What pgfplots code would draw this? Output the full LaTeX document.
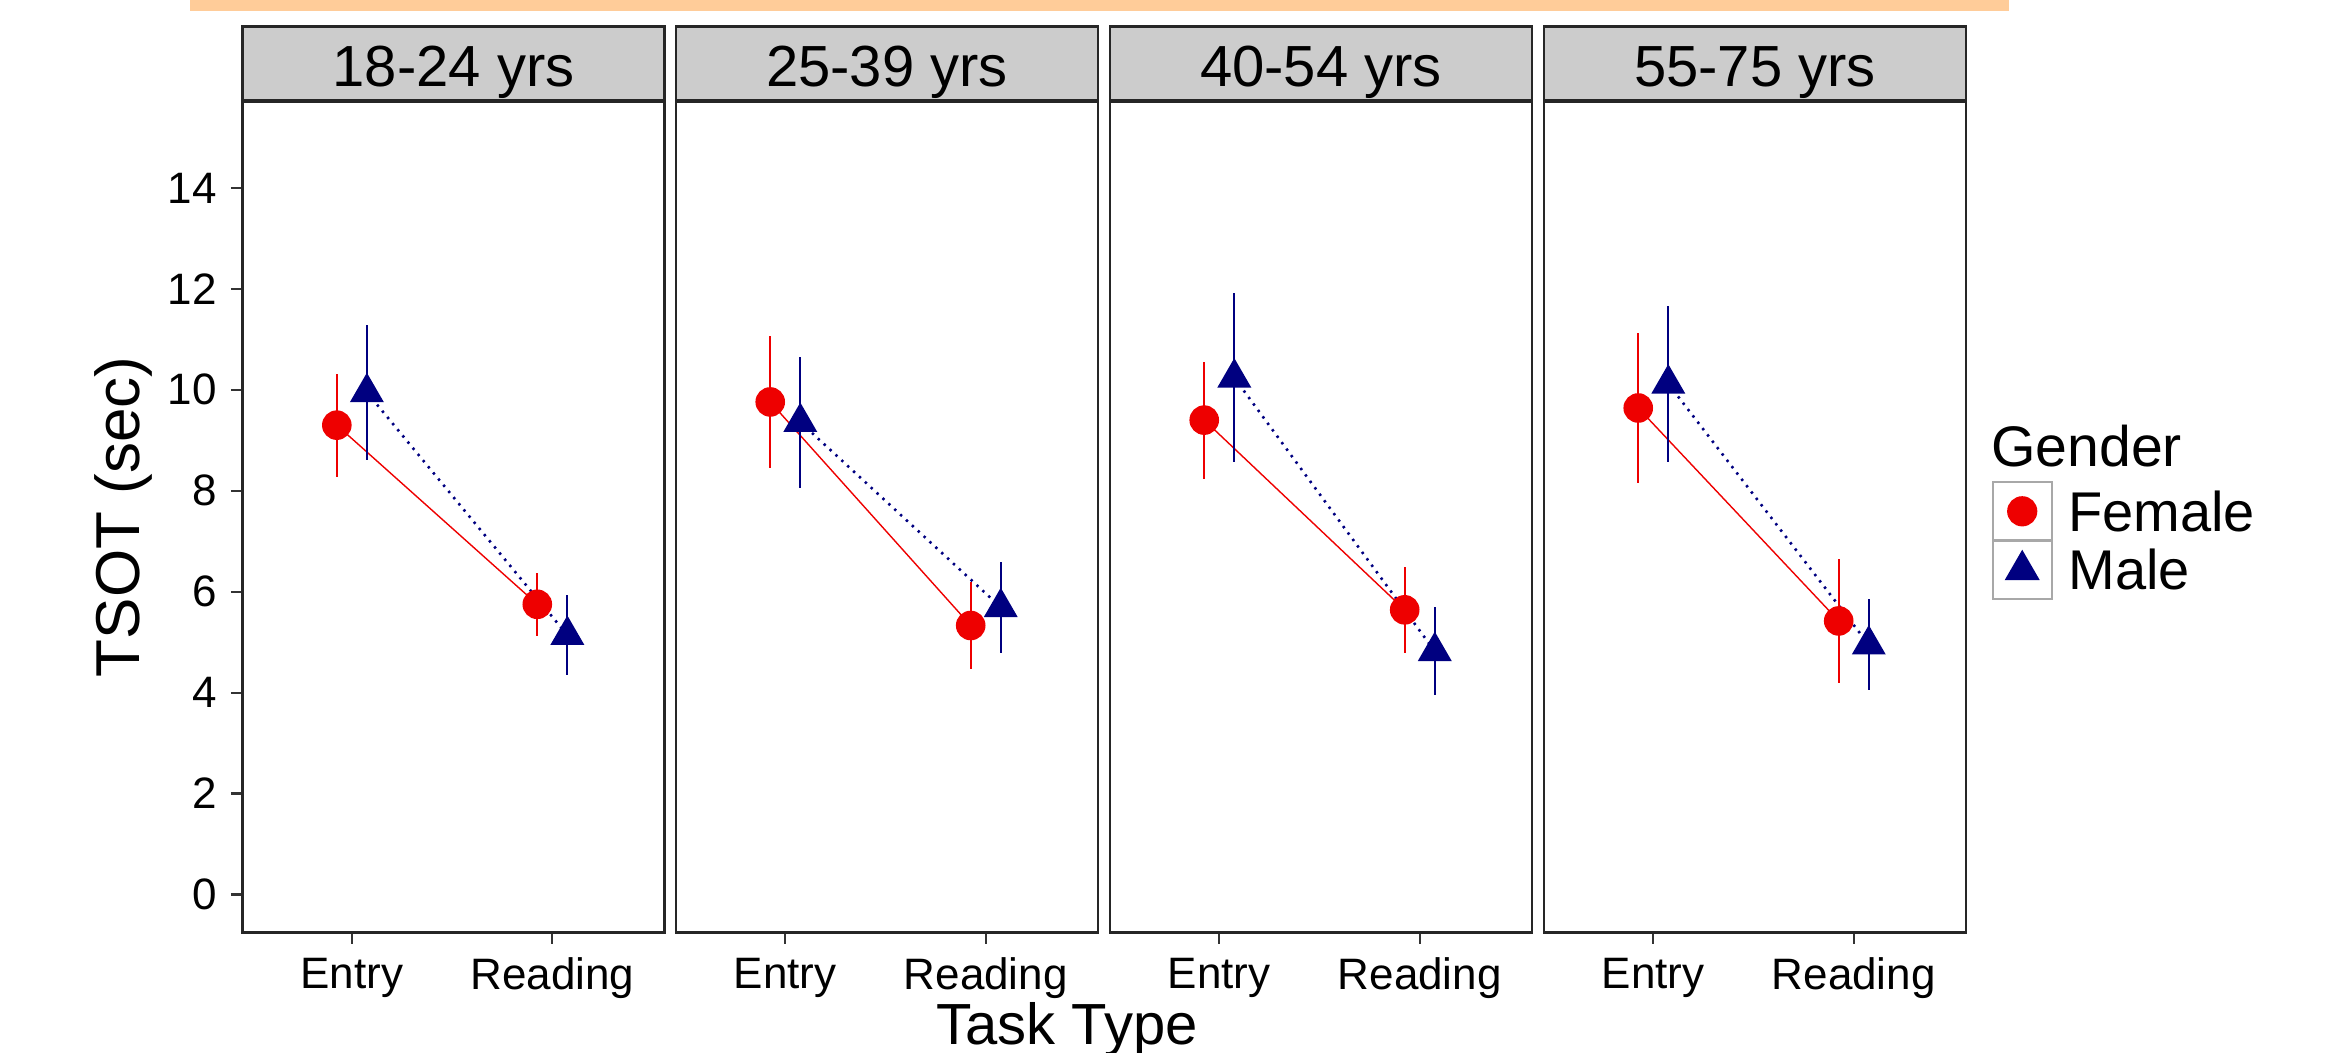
\documentclass[border=0pt]{standalone}
\usepackage{fontspec}
\setmainfont{Liberation Sans}
\usepackage{pgfplots}
\pgfplotsset{compat=1.18}
\definecolor{ggred}{HTML}{EE0000}
\definecolor{ggblue}{HTML}{000080}
\definecolor{stripgray}{HTML}{CCCCCC}
\definecolor{orangebar}{HTML}{FFCC99}
\definecolor{keygray}{HTML}{A8A8A8}

\pgfplotsset{
  panel/.style={
    scale only axis, width=105.5pt, height=207.65pt,
    xmin=0.455, xmax=2.56, ymin=-0.75, ymax=15.71,
    xtick={1,2}, xticklabels={Entry,Reading},
    ytick={0,2,...,14},
    tick align=outside, tick pos=left,
    major tick length=2.9pt,
    tick style={line width=0.55pt, black!80},
    axis line style={line width=0.7pt, black!85},
    /pgf/number format/assume math mode=true,
    tick label style={font=\fontsize{11}{13}\selectfont},
    every axis title shift=0pt,
    title style={at={(0.5,1)}, anchor=south, yshift=0pt, fill=stripgray, draw=black!85, line width=0.7pt,
       minimum width=105.5pt, minimum height=18.35pt, inner sep=0pt, text height=11.6pt, text depth=0pt,
       font=\fontsize{14.5}{17}\selectfont},
    clip=false,
  },
  femline/.style={ggred, line width=0.35pt, forget plot},
  malline/.style={ggblue, line width=0.65pt, dash pattern=on 0.6pt off 1.4pt, forget plot},
  fem/.style={only marks, mark=*, mark size=3.5pt, color=ggred,
     legend image code/.code={
       \draw[draw=keygray, line width=0.6pt, fill=white] (0pt,-7.33pt) rectangle (14.8pt,7.33pt);
       \draw[ggred, line width=0.55pt, mark=*, mark size=3.5pt, mark repeat=2, mark phase=2]
          plot coordinates {(1.6pt,0pt) (7.35pt,0pt) (13.2pt,0pt)};
     },
     error bars/.cd, y dir=both, y explicit, error mark=none,
     error bar style={line width=0.55pt, ggred}},
  mal/.style={only marks, mark=triangle*, mark size=4.5pt, color=ggblue,
     legend image code/.code={
       \draw[draw=keygray, line width=0.6pt, fill=white] (0pt,-7.33pt) rectangle (14.8pt,7.33pt);
       \draw[ggblue, line width=0.55pt, mark=triangle*, mark size=4.5pt, mark repeat=2, mark phase=2]
          plot coordinates {(1.6pt,0pt) (7.35pt,0pt) (13.2pt,0pt)};
     },
     error bars/.cd, y dir=both, y explicit, error mark=none,
     error bar style={line width=0.55pt, ggblue}},
}

\begin{document}
\begin{tikzpicture}
\path[use as bounding box] (0,0) rectangle (583.5pt,263pt);
\fill[orangebar] (47.6pt,263pt) rectangle (502.25pt,260.3pt);

% Panel 1
\begin{axis}[panel, at={(60.65pt,29.93pt)}, anchor=south west, title={18-24 yrs}]
\addplot[femline] coordinates {(0.925,9.30) (1.925,5.75)};
\addplot[malline] coordinates {(1.075,9.95) (2.075,5.14)};
\addplot[fem] coordinates {(0.925,9.30) +- (0,1.02) (1.925,5.75) +- (0,0.62)};
\addplot[mal] coordinates {(1.075,9.95) +- (0,1.34) (2.075,5.14) +- (0,0.80)};
\end{axis}

% Panel 2
\begin{axis}[panel, ytick=\empty, at={(169pt,29.93pt)}, anchor=south west, title={25-39 yrs}]
\addplot[femline] coordinates {(0.925,9.76) (1.925,5.33)};
\addplot[malline] coordinates {(1.075,9.36) (2.075,5.69)};
\addplot[fem] coordinates {(0.925,9.76) +- (0,1.30) (1.925,5.33) +- (0,0.87)};
\addplot[mal] coordinates {(1.075,9.36) +- (0,1.30) (2.075,5.69) +- (0,0.90)};
\end{axis}

% Panel 3
\begin{axis}[panel, ytick=\empty, at={(277.5pt,29.93pt)}, anchor=south west, title={40-54 yrs}]
\addplot[femline] coordinates {(0.925,9.40) (1.925,5.64)};
\addplot[malline] coordinates {(1.075,10.24) (2.075,4.82)};
\addplot[fem] coordinates {(0.925,9.40) +- (0,1.16) (1.925,5.64) +- (0,0.85)};
\addplot[mal] coordinates {(1.075,10.24) +- (0,1.67) (2.075,4.82) +- (0,0.87)};
\end{axis}

% Panel 4
\begin{axis}[panel, ytick=\empty, at={(386pt,29.93pt)}, anchor=south west, title={55-75 yrs},
  legend style={at={(1.0607,0.5436)}, anchor=north west, draw=none, fill=none,
    inner sep=0pt, outer sep=0pt, row sep=-0.6pt, column sep=3.8pt,
    font=\fontsize{14}{16}\selectfont,
    nodes={inner sep=0pt, outer sep=0pt, text height=10pt, text depth=0pt}},
  legend cell align=left]
\addplot[femline] coordinates {(0.925,9.64) (1.925,5.42)};
\addplot[malline] coordinates {(1.075,10.12) (2.075,4.95)};
\addplot[fem] coordinates {(0.925,9.64) +- (0,1.48) (1.925,5.42) +- (0,1.22)};
\addplot[mal] coordinates {(1.075,10.12) +- (0,1.55) (2.075,4.95) +- (0,0.90)};
\addlegendentry{Female}
\addlegendentry{Male}
\end{axis}

\node[anchor=base west, inner sep=0pt, font=\fontsize{14.3}{17}\selectfont] at (497.6pt,146.5pt) {Gender};
\node[rotate=90, anchor=base, inner sep=0pt, font=\fontsize{15.5}{18}\selectfont] at (35pt,133.75pt) {TSOT (sec)};
\node[anchor=base, inner sep=0pt, font=\fontsize{14.5}{17}\selectfont] at (266.75pt,2pt) {Task Type};
\end{tikzpicture}
\end{document}
